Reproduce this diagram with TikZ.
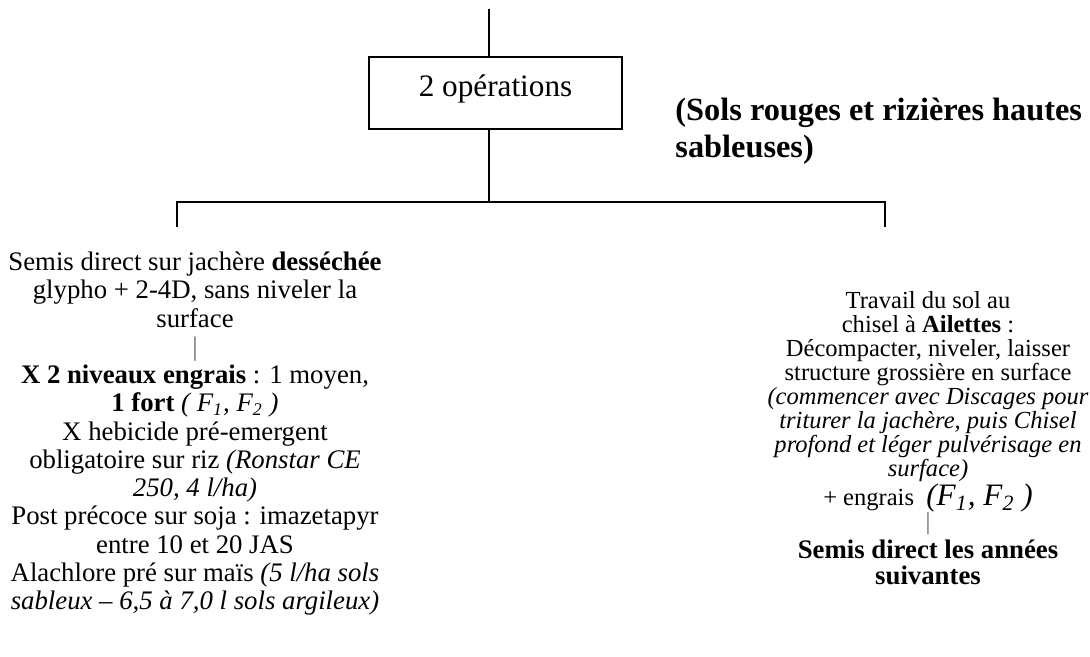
\documentclass[tikz,border=0pt]{standalone}
\usepackage{fontspec}
\setmainfont{Liberation Serif}
\begin{document}
\begin{tikzpicture}[x=0.4484pt,y=-0.4484pt,
  conn/.style={line width=0.75pt},
  opbox/.style={draw,line width=0.8pt,minimum width=113.4pt,minimum height=32.3pt,inner sep=0pt,font=\fontsize{14}{16}\selectfont,text height=6.3pt,text depth=3pt},
  body/.style={align=center,inner sep=0pt,font=\fontsize{12}{12.67}\selectfont},
  rbody/.style={align=center,inner sep=0pt,font=\fontsize{11}{10.76}\selectfont},
  head/.style={align=left,inner sep=0pt,font=\fontsize{14.5}{16.3}\selectfont\bfseries},
  sepbar/.style={inner sep=0pt,font=\fontsize{11}{12}\selectfont,text=black!60}]
\useasboundingbox (0,0) rectangle (1090,657);
% tree
\node[opbox] (ops) at (495.5,93.3) {2 opérations};
\coordinate (top) at (489,9);
\coordinate (junc) at (489,201.7);
\coordinate (jl) at (177,201.7);
\coordinate (jr) at (885,201.7);
\coordinate (dl) at (177,227);
\coordinate (dr) at (885,227);
\draw[conn] (top) -- (top |- ops.north);
\draw[conn] (ops.south -| junc) -- (junc);
\draw[conn] (dl) -- (jl) -- (jr) -- (dr);
% header
\node[head,anchor=north west] (hdr) at (675,98) {(Sols rouges et rizières hautes\\sableuses)};
% left column
\node[body,anchor=north] (left) at (195,251.5) {Semis direct sur jachère \textbf{desséchée}\\
glypho + 2-4D, sans niveler la\\
surface\\
\textcolor{black!60}{|}\\
\textbf{X 2 niveaux engrais} : 1 moyen,\\
\textbf{1 fort} \textit{( F\textsubscript{1}, F\textsubscript{2} )}\\
X hebicide pré-emergent\\
obligatoire sur riz \textit{(Ronstar CE}\\
\textit{250, 4 l/ha)}\\
Post précoce sur soja : imazetapyr\\
entre 10 et 20 JAS\\
Alachlore pré sur maïs \textit{(5 l/ha sols}\\
\textit{sableux – 6,5 à 7,0 l sols argileux)}};
% right column
\node[rbody,anchor=north] (right) at (928,291) {Travail du sol au\\
chisel à \textbf{Ailettes} :\\
Décompacter, niveler, laisser\\
structure grossière en surface\\
\textit{(commencer avec Discages pour}\\
\textit{triturer la jachère, puis Chisel}\\
\textit{profond et léger pulvérisage en}\\
\textit{surface)}\\[2.2pt]
+ engrais \ \smash{\fontsize{14}{15}\selectfont\textit{(F\textsubscript{1}, F\textsubscript{2} )}}};
\node[sepbar,anchor=north] (rbar) at (928,512) {|};
\node[body,anchor=north,font=\fontsize{12}{11.66}\selectfont\bfseries] (rend) at (928,539) {Semis direct les années\\suivantes};
\end{tikzpicture}
\end{document}
